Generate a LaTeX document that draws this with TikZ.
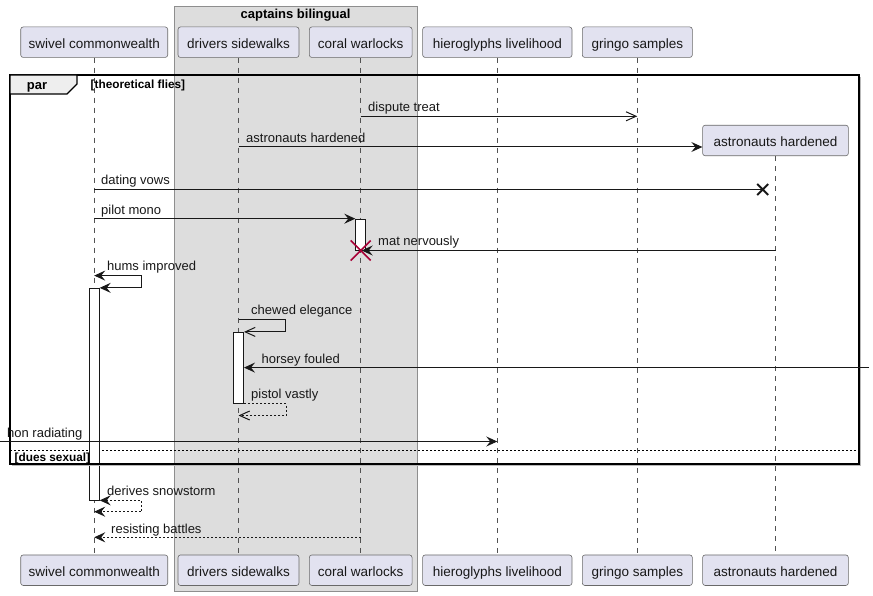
\documentclass[tikz,border=0pt]{standalone}
\usepackage{fontspec}
\setmainfont{Liberation Sans}
\usetikzlibrary{arrows.meta,calc}
\definecolor{partfill}{HTML}{E2E2F0}
\definecolor{ink}{HTML}{181818}
\definecolor{grpfill}{HTML}{DDDDDD}
\definecolor{grpline}{HTML}{8E8E8E}
\definecolor{tabfill}{HTML}{EEEEEE}
\definecolor{destroyred}{HTML}{A80036}
\begin{document}
\begin{tikzpicture}[x=1pt,y=-1pt,
  part/.style={draw=ink!65, line width=0.6pt, fill=partfill, rounded corners=2.5pt,
    minimum height=30.5pt, inner xsep=0pt, inner ysep=0pt, text height=12pt, text depth=0pt,
    font=\fontsize{13.5}{16}\selectfont, text=ink},
  life/.style={draw=ink!75, line width=0.5pt, dash pattern=on 5pt off 5pt},
  actbar/.style={draw=ink, line width=0.8pt, fill=white, minimum width=10pt, inner sep=0pt},
  msg/.style={draw=ink, line width=1pt},
  ret/.style={draw=ink, line width=1pt, dash pattern=on 2pt off 2pt},
  lbl/.style={anchor=base west, inner sep=0pt, font=\fontsize{13}{15}\selectfont, text=ink},
  grplbl/.style={inner sep=0pt, font=\bfseries\fontsize{11.8}{14}\selectfont, text=black},
  fill tip/.tip={Stealth[length=11pt,width=10pt,inset=4pt]},
  open tip/.tip={Straight Barb[length=10pt,width=9pt]},
]
\useasboundingbox (0,0) rectangle (873,596);

% group box
\draw[fill=grpfill, draw=grpline, line width=0.8pt] (174,6) rectangle (417,591);
\node[anchor=base, inner sep=0pt, font=\bfseries\fontsize{13}{15}\selectfont] (grpT) at (295.5,18.5) {captains bilingual};

% participants
\node[part, minimum width=147pt] (swT) at (94.2,42.2) {swivel commonwealth};
\node[part, minimum width=121pt] (drT) at (238.5,42.2) {drivers sidewalks};
\node[part, minimum width=102.7pt] (coT) at (360.7,42.2) {coral warlocks};
\node[part, minimum width=149.3pt] (hiT) at (497.3,42.2) {hieroglyphs livelihood};
\node[part, minimum width=110pt] (grT) at (637.3,42.2) {gringo samples};
\node[part, minimum width=145.7pt] (asT) at (775.5,140.5) {astronauts hardened};

\node[part, minimum width=147pt] (swB) at (94.2,570.2) {swivel commonwealth};
\node[part, minimum width=121pt] (drB) at (238.5,570.2) {drivers sidewalks};
\node[part, minimum width=102.7pt] (coB) at (360.7,570.2) {coral warlocks};
\node[part, minimum width=149.3pt] (hiB) at (497.3,570.2) {hieroglyphs livelihood};
\node[part, minimum width=110pt] (grB) at (637.3,570.2) {gringo samples};
\node[part, minimum width=145.7pt] (asB) at (775.5,570.2) {astronauts hardened};

% lifelines
\draw[life] (swT) -- (swB);
\draw[life] (drT) -- (drB);
\draw[life] (coT) -- (coB);
\draw[life] (hiT) -- (hiB);
\draw[life] (grT) -- (grB);
\draw[life] (asT) -- (asB);

% par separator
\draw[black, line width=0.8pt, dash pattern=on 2pt off 2pt] (10,450.5) -- (859,450.5);

% activation bars
\node[actbar, minimum height=31pt] (coA) at (360.7,234.6) {};
\node[actbar, minimum height=211.7pt] (swA) at (94.3,394.1) {};
\node[actbar, minimum height=71pt] (drA) at (238.6,367.8) {};

% par frame
\draw[gray!55, line width=1pt] (12,465.6) -- (860.6,465.6) -- (860.6,77);
\draw[black, line width=1.5pt] (10,75) rectangle (859,464);
\draw[black, line width=1.2pt, fill=tabfill] (10,75) -- (77,75) -- (77,84) -- (67,94) -- (10,94) -- cycle;
\node[anchor=base west, inner sep=0pt, font=\bfseries\fontsize{13}{15}\selectfont] (parT) at (26.7,90) {par};
\node[grplbl, anchor=base west] (g1) at (90.5,88.5) {[theoretical flies]};
\node[grplbl, anchor=base west] (g2) at (14.5,461) {[dues sexual]};

% messages
\draw[msg, -open tip] (coT |- 0,116.3) -- (grT |- 0,116.3);
\node[lbl] (l1) at (368,112) {dispute treat};

\draw[msg, -fill tip] (drT |- 0,147) -- (asT.west |- 0,147);
\node[lbl] (l2) at (246,142.8) {astronauts hardened};

\coordinate (lostX) at (762.7,189.5);
\draw[msg] (swT |- lostX) -- (lostX);
\draw[ink, line width=2pt] ($(lostX)+(-5.5,-5.5)$) -- ($(lostX)+(5.5,5.5)$)
      ($(lostX)+(-5.5,5.5)$) -- ($(lostX)+(5.5,-5.5)$);
\node[lbl] (l3) at (101,185) {dating vows};

\draw[msg, -fill tip] (swT |- coA.north west) -- (coA.north west);
\node[lbl] (l4) at (101,215) {pilot mono};

\draw[msg, -fill tip] (asT |- coA.south) -- ([xshift=1pt]coA.south);
\node[lbl] (l5) at (378,245.5) {mat nervously};
\draw[destroyred, line width=1.6pt] ($(coA.south)+(-10,-10)$) -- ($(coA.south)+(10,10)$)
      ($(coA.south)+(-10,10)$) -- ($(coA.south)+(10,-10)$);

\draw[msg, fill tip-fill tip] (swT |- 0,275.6) -- ++(47.3,0) |- (swA.north east);
\node[lbl] (l6) at (107,270.8) {hums improved};

\draw[msg, -open tip] (drT |- 0,319.4) -- ++(47.3,0) |- (drA.north east);
\node[lbl] (l7) at (251,314.5) {chewed elegance};

\coordinate (hR) at (869,367.6);
\draw[msg, -fill tip] (hR) -- (drA.east |- hR);
\node[lbl] (l8) at (261.5,363) {horsey fouled};

\draw[ret, -open tip] (drA.south east) -- ++(42.2,0) |- (drT |- 0,415.5);
\node[lbl] (l9) at (251,398) {pistol vastly};

\coordinate (hL) at (0,441.5);
\draw[msg, -fill tip] (hL) -- (hiT |- hL);
\node[lbl] (l10) at (7,437) {hon radiating};

\draw[ret, fill tip-fill tip] (swA.south east) -- ++(42.2,0) |- (swT |- 0,511.7);
\node[lbl] (l11) at (107,495) {derives snowstorm};

\draw[ret, -fill tip] (coT |- 0,537.3) -- (swT |- 0,537.3);
\node[lbl] (l12) at (111,533) {resisting battles};

\end{tikzpicture}
\end{document}
